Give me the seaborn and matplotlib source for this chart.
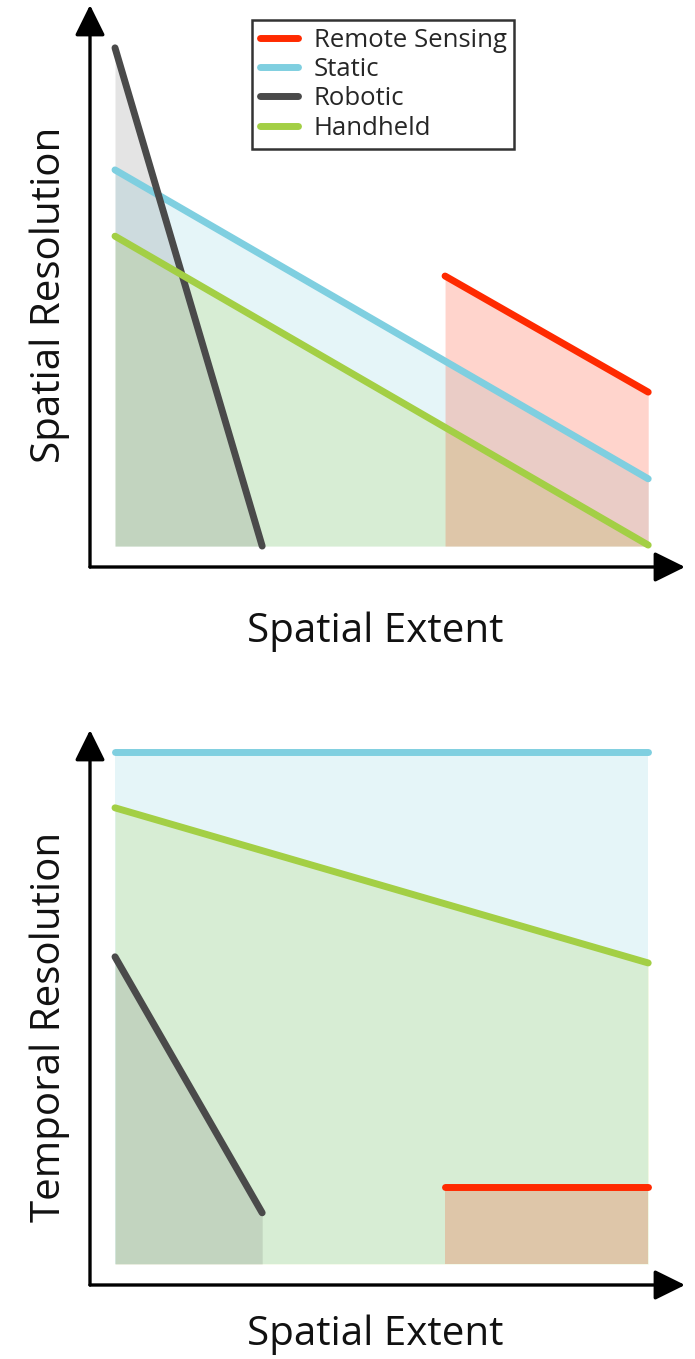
import numpy as np
import pandas as pd
import matplotlib
matplotlib.use("Agg")
import matplotlib.pyplot as plt
import seaborn as sns

# --- data (arbitrary units: x 0..100 along spatial extent, y 0..100) ---
series_names = ["Remote Sensing", "Static", "Robotic", "Handheld"]
series_colors = ["#ff2a00", "#7fcfe0", "#4a4a4a", "#a3cf45"]

# top panel: spatial resolution vs spatial extent
top_remote_x = [61.9, 100]
top_remote_y = [54.2, 30.9]
top_static_x = [0, 100]
top_static_y = [75.5, 13.5]
top_robotic_x = [0, 27.6]
top_robotic_y = [100, 0]
top_handheld_x = [0, 100]
top_handheld_y = [62.2, 0.2]

# bottom panel: temporal resolution vs spatial extent
bot_remote_x = [61.9, 100]
bot_remote_y = [15.0, 15.0]
bot_static_x = [0, 100]
bot_static_y = [100, 100]
bot_robotic_x = [0, 27.6]
bot_robotic_y = [60.0, 10.0]
bot_handheld_x = [0, 100]
bot_handheld_y = [89.1, 58.8]

x_label = "Spatial Extent"
top_y_label = "Spatial Resolution"
bot_y_label = "Temporal Resolution"


def make_df(xs, ys):
    rows = []
    for name, x, y in zip(series_names, xs, ys):
        for xi, yi in zip(x, y):
            rows.append({"series": name, "x": xi, "y": yi})
    return pd.DataFrame(rows)


sns.set_theme(style="white")
plt.rcParams["font.family"] = ["Open Sans", "DejaVu Sans"]

W, H = 695, 1359
fig = plt.figure(figsize=(W / 100, H / 100), dpi=100)


def px_axes(left, top, right, bottom):
    return fig.add_axes([left / W, 1 - bottom / H, (right - left) / W, (bottom - top) / H])


ax_top = px_axes(90, 5, 685, 567)
ax_bot = px_axes(90, 730, 685, 1285)

panels = [
    (ax_top, make_df([top_remote_x, top_static_x, top_robotic_x, top_handheld_x],
                     [top_remote_y, top_static_y, top_robotic_y, top_handheld_y]),
     top_y_label, (-4.2, 108.6), True),
    (ax_bot, make_df([bot_remote_x, bot_static_x, bot_robotic_x, bot_handheld_x],
                     [bot_remote_y, bot_static_y, bot_robotic_y, bot_handheld_y]),
     bot_y_label, (-4.1, 104.3), False),
]

palette = dict(zip(series_names, series_colors))
fill_alpha = {"Static": 0.2, "Handheld": 0.2, "Remote Sensing": 0.2, "Robotic": 0.15}

for ax, df, ylab, ylim, show_legend in panels:
    # shaded areas under each line
    for name in ["Static", "Handheld", "Remote Sensing", "Robotic"]:
        d = df[df["series"] == name]
        ax.fill_between(d["x"], d["y"], 0, color=palette[name], alpha=fill_alpha[name], linewidth=0)

    sns.lineplot(data=df, x="x", y="y", hue="series", hue_order=series_names,
                 palette=palette, linewidth=5, solid_capstyle="round",
                 legend=show_legend, ax=ax, estimator=None, sort=False)

    ax.set_xlim(-4.69, 106.9)
    ax.set_ylim(*ylim)
    ax.set_xticks([])
    ax.set_yticks([])
    for s in ax.spines.values():
        s.set_visible(False)
    ax.patch.set_alpha(0)

    # axis arrows
    arrow = dict(arrowstyle="-|>,head_length=0.85,head_width=0.42", lw=2.4,
                 color="black", mutation_scale=22, shrinkA=0, shrinkB=0)
    ax.annotate("", xy=(0, 1), xytext=(0, 0), xycoords="axes fraction", arrowprops=arrow)
    ax.annotate("", xy=(1, 0), xytext=(0, 0), xycoords="axes fraction", arrowprops=arrow)

    ax.set_xlabel(x_label, fontsize=29, color="#111111")
    ax.set_ylabel(ylab, fontsize=29, color="#111111")

ax_top.xaxis.set_label_coords(0.479, -0.116)
ax_top.yaxis.set_label_coords(-0.068, 0.484)
ax_bot.xaxis.set_label_coords(0.479, -0.09)
ax_bot.yaxis.set_label_coords(-0.068, 0.465)
for ax in (ax_top, ax_bot):
    ax.xaxis.label.set_va("center")
    ax.yaxis.label.set_va("center")

leg = ax_top.legend(loc="upper left", bbox_to_anchor=((252 - 90) / 595, (567 - 20) / 562),
                    frameon=True, fancybox=False, fontsize=18.5, handlelength=1.5,
                    handletextpad=0.6, labelspacing=0.17, borderpad=0.3,
                    borderaxespad=0, title=None)
leg.get_frame().set_edgecolor("black")
leg.get_frame().set_linewidth(1.8)
for line in leg.get_lines():
    line.set_linewidth(5)
    line.set_solid_capstyle("round")

fig.savefig("out.png", dpi=100)
